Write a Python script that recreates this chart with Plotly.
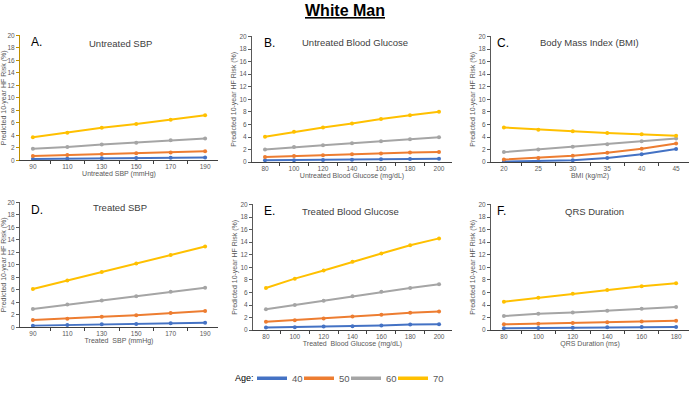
import plotly.graph_objects as go

W, H = 690, 400

# ---------------- data ----------------
ages = ["40", "50", "60", "70"]
colors = ["#4472C4", "#ED7D31", "#A5A5A5", "#FFC000"]

sbp_x = [90, 110, 130, 150, 170, 190]
untreated_sbp = {
    "40": [0.21, 0.25, 0.3, 0.34, 0.38, 0.42],
    "50": [0.68, 0.85, 0.98, 1.1, 1.25, 1.42],
    "60": [1.84, 2.1, 2.5, 2.8, 3.2, 3.5],
    "70": [3.67, 4.4, 5.2, 5.8, 6.5, 7.19],
}
glu_x = [80, 100, 120, 140, 160, 180, 200]
untreated_glu = {
    "40": [0.3, 0.32, 0.36, 0.4, 0.45, 0.5, 0.53],
    "50": [0.83, 0.99, 1.12, 1.25, 1.4, 1.53, 1.62],
    "60": [2.03, 2.4, 2.7, 3.0, 3.33, 3.65, 3.96],
    "70": [4.06, 4.84, 5.52, 6.15, 6.88, 7.45, 8.02],
}
bmi_x = [20, 25, 30, 35, 40, 45]
bmi = {
    "40": [0.1, 0.16, 0.3, 0.68, 1.25, 2.08],
    "50": [0.42, 0.68, 1.04, 1.51, 2.14, 2.97],
    "60": [1.6, 2.03, 2.45, 2.86, 3.33, 3.75],
    "70": [5.52, 5.16, 4.9, 4.64, 4.43, 4.22],
}
treated_sbp = {
    "40": [0.26, 0.37, 0.47, 0.52, 0.63, 0.73],
    "50": [1.15, 1.36, 1.68, 1.94, 2.3, 2.62],
    "60": [2.93, 3.66, 4.3, 4.97, 5.7, 6.33],
    "70": [6.13, 7.5, 8.85, 10.2, 11.57, 12.93],
}
treated_glu = {
    "40": [0.42, 0.47, 0.57, 0.63, 0.73, 0.89, 0.94],
    "50": [1.35, 1.6, 1.87, 2.19, 2.45, 2.76, 2.97],
    "60": [3.33, 4.0, 4.7, 5.4, 6.1, 6.7, 7.3],
    "70": [6.7, 8.2, 9.5, 10.9, 12.2, 13.5, 14.6],
}
qrs_x = [80, 100, 120, 140, 160, 180]
qrs = {
    "40": [0.3, 0.35, 0.4, 0.45, 0.5, 0.5],
    "50": [0.94, 1.04, 1.15, 1.25, 1.4, 1.5],
    "60": [2.24, 2.6, 2.8, 3.1, 3.4, 3.7],
    "70": [4.53, 5.16, 5.78, 6.4, 6.98, 7.45],
}

panels = [
    ("A.", "Untreated SBP", "Untreated SBP (mmHg)", sbp_x, untreated_sbp),
    ("B.", "Untreated Blood Glucose", "Untreated Blood Glucose (mg/dL)", glu_x, untreated_glu),
    ("C.", "Body Mass Index (BMI)", "BMI (kg/m2)", bmi_x, bmi),
    ("D.", "Treated SBP", "Treated  SBP (mmHg)", sbp_x, treated_sbp),
    ("E.", "Treated Blood Glucose", "Treated  Blood Glucose (mg/dL)", glu_x, treated_glu),
    ("F.", "QRS Duration", "QRS Duration (ms)", qrs_x, qrs),
]
y_title = "Predicted 10-year HF Risk (%)"
y_ticks = list(range(0, 21, 2))

# ---------------- layout (pixel boxes) ----------------
boxes = [  # x0, x1, y_top, y_bottom in pixels
    (20, 218, 32, 159),
    (252, 452, 33, 161),
    (491, 689, 33, 161),
    (20, 218, 202, 329),
    (253, 452, 204, 332),
    (491, 689, 204, 332),
]
letter_pos = [(29, 39), (262, 40), (495, 40), (29, 210), (262, 211), (495, 211)]
title_pos = [(120, 40), (355, 39), (589, 39), (120, 207), (350, 211), (594, 211)]


def fx(px):
    return px / W


def fy(py):
    return 1 - py / H


FONT = "Liberation Sans, Arial, sans-serif"
fig = go.Figure()
annotations = []

for i, (letter, title, xtitle, xs, series) in enumerate(panels):
    n = i + 1
    xa = "x" if n == 1 else f"x{n}"
    ya = "y" if n == 1 else f"y{n}"
    for age, col in zip(ages, colors):
        fig.add_trace(go.Scatter(
            x=[str(v) for v in xs], y=series[age], xaxis=xa, yaxis=ya,
            mode="lines+markers", line=dict(color=col, width=2),
            marker=dict(color=col, size=4), showlegend=False,
            hoverinfo="x+y",
        ))
    x0, x1, yt, yb = boxes[i]
    ykey = "yaxis" if n == 1 else f"yaxis{n}"
    xkey = "xaxis" if n == 1 else f"xaxis{n}"
    ycol = "#BF8F00" if n == 1 else "#595959"
    fig.layout[xkey] = dict(
        domain=[fx(x0), fx(x1)], anchor=ya, type="category",
        tickson="boundaries", ticks="outside", ticklen=3, tickcolor="#404040",
        showline=True, linecolor="#404040", linewidth=1, showgrid=False,
        zeroline=False, tickfont=dict(size=6.5, color="#595959", family=FONT),
        title=dict(text=xtitle, font=dict(size=7, color="#595959", family=FONT), standoff=2),
        fixedrange=True,
    )
    fig.layout[ykey] = dict(
        domain=[fy(yb), fy(yt)], anchor=xa, range=[0, 20], tickvals=y_ticks,
        ticks="outside", ticklen=3, tickcolor=ycol,
        showline=True, linecolor=ycol, linewidth=1, showgrid=False,
        zeroline=False, tickfont=dict(size=6.5, color="#595959", family=FONT),
        title=dict(text=y_title, font=dict(size=7, color="#595959", family=FONT), standoff=2),
        fixedrange=True,
    )
    lx, ly = letter_pos[i]
    annotations.append(dict(text=letter, x=fx(lx), y=fy(ly), xref="paper", yref="paper",
                            xanchor="left", yanchor="middle", showarrow=False,
                            font=dict(size=12, color="#000000", family=FONT)))
    tx, ty = title_pos[i]
    annotations.append(dict(text=title, x=fx(tx), y=fy(ty), xref="paper", yref="paper",
                            xanchor="center", yanchor="middle", showarrow=False,
                            font=dict(size=9.5, color="#404040", family=FONT)))

annotations.append(dict(text="<b><u>White Man</u></b>", x=fx(345), y=fy(7), xref="paper",
                        yref="paper", xanchor="center", yanchor="middle", showarrow=False,
                        font=dict(size=16, color="#000000", family=FONT)))
annotations.append(dict(text="Age:", x=fx(233), y=fy(381), xref="paper", yref="paper",
                        xanchor="left", yanchor="middle", showarrow=False,
                        font=dict(size=9, color="#000000", family=FONT)))

# legend entries (line only)
for k, (age, col) in enumerate(zip(ages, colors)):
    fig.add_trace(go.Scatter(x=[None], y=[None], mode="lines", name=age,
                             line=dict(color=col, width=3.5), showlegend=True,
                             legendwidth=16 if k == len(ages) - 1 else None))

fig.update_layout(
    width=W, height=H, margin=dict(l=0, r=0, t=0, b=0),
    paper_bgcolor="white", plot_bgcolor="white",
    font=dict(family=FONT),
    annotations=annotations,
    legend=dict(orientation="h", x=fx(252), y=fy(381), xanchor="left", yanchor="middle",
                font=dict(size=9.5, color="#595959", family=FONT),
                itemwidth=30, entrywidth=2, entrywidthmode="pixels",
                tracegroupgap=0, bgcolor="rgba(0,0,0,0)"),
)

fig.write_html("out.html", config={"displayModeBar": False},
               post_script="document.body.style.margin='0';document.body.style.overflow='hidden';")
